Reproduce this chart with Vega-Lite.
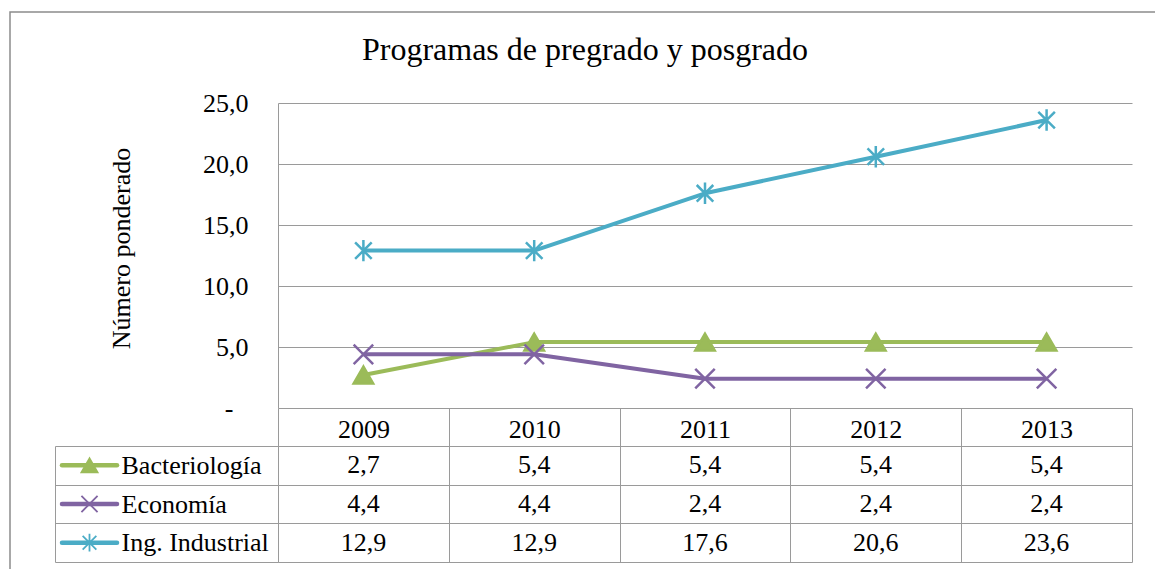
{
  "$schema": "https://vega.github.io/schema/vega-lite/v6.json",
  "width": 1150,
  "height": 562,
  "autosize": {"type": "none"},
  "padding": {"left": 10, "top": 12, "right": -5, "bottom": -5},
  "background": "white",
  "config": {
    "view": {"stroke": "#8c8c8c", "strokeWidth": 1.5},
    "font": "Liberation Serif",
    "axis": {
      "labelFont": "Liberation Serif",
      "titleFont": "Liberation Serif",
      "labelColor": "black",
      "titleColor": "black",
      "labelFontSize": 26,
      "titleFontSize": 26,
      "titleFontWeight": "normal",
      "domainColor": "#9a9a9a",
      "tickColor": "#9a9a9a",
      "gridColor": "#9a9a9a",
      "gridOpacity": 1,
      "domainWidth": 1,
      "gridWidth": 1,
      "tickWidth": 1
    }
  },
  "title": {
    "text": "Programas de pregrado y posgrado",
    "anchor": "middle",
    "frame": "group",
    "orient": "top",
    "baseline": "alphabetic",
    "offset": -93,
    "font": "Liberation Serif",
    "fontSize": 32,
    "fontWeight": "normal",
    "color": "black"
  },
  "data": {
    "values": [
      {"series": "Bacteriología", "year": "2009", "value": 2.7},
      {"series": "Bacteriología", "year": "2010", "value": 5.4},
      {"series": "Bacteriología", "year": "2011", "value": 5.4},
      {"series": "Bacteriología", "year": "2012", "value": 5.4},
      {"series": "Bacteriología", "year": "2013", "value": 5.4},
      {"series": "Economía", "year": "2009", "value": 4.4},
      {"series": "Economía", "year": "2010", "value": 4.4},
      {"series": "Economía", "year": "2011", "value": 2.4},
      {"series": "Economía", "year": "2012", "value": 2.4},
      {"series": "Economía", "year": "2013", "value": 2.4},
      {"series": "Ing. Industrial", "year": "2009", "value": 12.9},
      {"series": "Ing. Industrial", "year": "2010", "value": 12.9},
      {"series": "Ing. Industrial", "year": "2011", "value": 17.6},
      {"series": "Ing. Industrial", "year": "2012", "value": 20.6},
      {"series": "Ing. Industrial", "year": "2013", "value": 23.6}
    ]
  },
  "transform": [
    {"calculate": "replace(format(datum.value, '.1f'), '.', ',')", "as": "label"}
  ],
  "resolve": {
    "scale": {"x": "independent", "y": "independent"},
    "axis": {"x": "independent", "y": "independent"}
  },
  "layer": [
    {
      "mark": {"type": "line", "strokeWidth": 4, "strokeJoin": "round"},
      "encoding": {
        "x": {"field": "year", "type": "ordinal", "scale": {"type": "point", "padding": 0.5, "range": [268, 1122]}, "axis": null},
        "y": {
          "field": "value", "type": "quantitative",
          "scale": {"domain": [0, 25], "range": [396, 91], "nice": false, "zero": false},
          "axis": {
            "orient": "left", "offset": -268,
            "values": [0, 5, 10, 15, 20, 25],
            "labelExpr": "datum.value == 0 ? '-' : replace(format(datum.value, '.1f'), '.', ',')",
            "labelPadding": {"condition": {"test": "datum.value == 0", "value": 45}, "value": 30},
            "ticks": false, "domain": true, "grid": true,
            "title": "Número ponderado", "titlePadding": 68, "titleY": 236
          }
        },
        "color": {"field": "series", "type": "nominal", "scale": {"domain": ["Bacteriología", "Economía", "Ing. Industrial"], "range": ["#9BBB59", "#8064A2", "#4BACC6"]}, "legend": null}
      }
    },
    {
      "mark": {"type": "point", "filled": false, "strokeWidth": 2.5, "opacity": 1},
      "encoding": {
        "x": {"field": "year", "type": "ordinal", "scale": {"type": "point", "padding": 0.5, "range": [268, 1122]}, "axis": null},
        "y": {"field": "value", "type": "quantitative", "scale": {"domain": [0, 25], "range": [396, 91], "nice": false, "zero": false}, "axis": null},
        "color": {"field": "series", "type": "nominal", "scale": {"domain": ["Bacteriología", "Economía", "Ing. Industrial"], "range": ["#9BBB59", "#8064A2", "#4BACC6"]}, "legend": null},
        "fill": {"field": "series", "type": "nominal", "scale": {"domain": ["Bacteriología", "Economía", "Ing. Industrial"], "range": ["#9BBB59", "transparent", "transparent"]}, "legend": null},
        "shape": {"field": "series", "type": "nominal", "scale": {"domain": ["Bacteriología", "Economía", "Ing. Industrial"], "range": ["triangle-up", "M-1,-1L1,1M-1,1L1,-1", "M-0.85,-0.85L0.85,0.85M-0.85,0.85L0.85,-0.85M0,-1.1L0,1.1"]}, "legend": null},
        "size": {"value": 380}
      }
    },
    {
      "mark": {"type": "text", "font": "Liberation Serif", "fontSize": 26, "color": "black", "baseline": "middle", "align": "center"},
      "encoding": {
        "x": {
          "field": "year", "type": "ordinal",
          "scale": {"type": "band", "paddingInner": 0, "paddingOuter": 0, "range": [268, 1122]},
          "axis": {
            "orient": "top", "offset": -434, "tickBand": "extent", "tickSize": 38,
            "ticks": true, "domain": true, "grid": true,
            "labelBaseline": "alphabetic", "labelPadding": -29, "labelAngle": 0, "title": null
          }
        },
        "y": {
          "field": "series", "type": "nominal",
          "scale": {"type": "band", "paddingInner": 0, "paddingOuter": 0, "domain": ["Bacteriología", "Economía", "Ing. Industrial"], "range": [434, 550]},
          "axis": {
            "orient": "left", "offset": -268, "tickBand": "extent", "tickSize": 223,
            "labelAlign": "left", "labelPadding": -66, "labelBaseline": "middle",
            "grid": true, "domain": true, "title": null
          }
        },
        "text": {"field": "label"}
      }
    },
    {
      "transform": [{"filter": "datum.year == '2009'"}],
      "mark": {"type": "rule", "strokeWidth": 4.5, "strokeCap": "round"},
      "encoding": {
        "x": {"datum": 0, "type": "quantitative", "scale": {"domain": [0, 1], "range": [52, 107], "zero": false, "nice": false}, "axis": null},
        "x2": {"datum": 1},
        "y": {
          "field": "series", "type": "nominal",
          "scale": {"type": "band", "paddingInner": 0, "paddingOuter": 0, "domain": ["Bacteriología", "Economía", "Ing. Industrial"], "range": [434, 550]},
          "axis": {"orient": "left", "offset": -45, "labels": false, "ticks": false, "grid": false, "domain": true, "title": null}
        },
        "color": {"field": "series", "type": "nominal", "scale": {"domain": ["Bacteriología", "Economía", "Ing. Industrial"], "range": ["#9BBB59", "#8064A2", "#4BACC6"]}, "legend": null}
      }
    },
    {
      "transform": [{"filter": "datum.year == '2009'"}],
      "mark": {"type": "point", "filled": false, "strokeWidth": 1.8, "opacity": 1},
      "encoding": {
        "x": {"datum": 0.5, "type": "quantitative", "scale": {"domain": [0, 1], "range": [52, 107], "zero": false, "nice": false}, "axis": null},
        "y": {
          "field": "series", "type": "nominal",
          "scale": {"type": "band", "paddingInner": 0, "paddingOuter": 0, "domain": ["Bacteriología", "Economía", "Ing. Industrial"], "range": [434, 550]},
          "axis": null
        },
        "color": {"field": "series", "type": "nominal", "scale": {"domain": ["Bacteriología", "Economía", "Ing. Industrial"], "range": ["#9BBB59", "#8064A2", "#4BACC6"]}, "legend": null},
        "fill": {"field": "series", "type": "nominal", "scale": {"domain": ["Bacteriología", "Economía", "Ing. Industrial"], "range": ["#9BBB59", "transparent", "transparent"]}, "legend": null},
        "shape": {"field": "series", "type": "nominal", "scale": {"domain": ["Bacteriología", "Economía", "Ing. Industrial"], "range": ["triangle-up", "M-1,-1L1,1M-1,1L1,-1", "M-0.85,-0.85L0.85,0.85M-0.85,0.85L0.85,-0.85M0,-1.1L0,1.1"]}, "legend": null},
        "size": {"value": 260}
      }
    }
  ]
}
